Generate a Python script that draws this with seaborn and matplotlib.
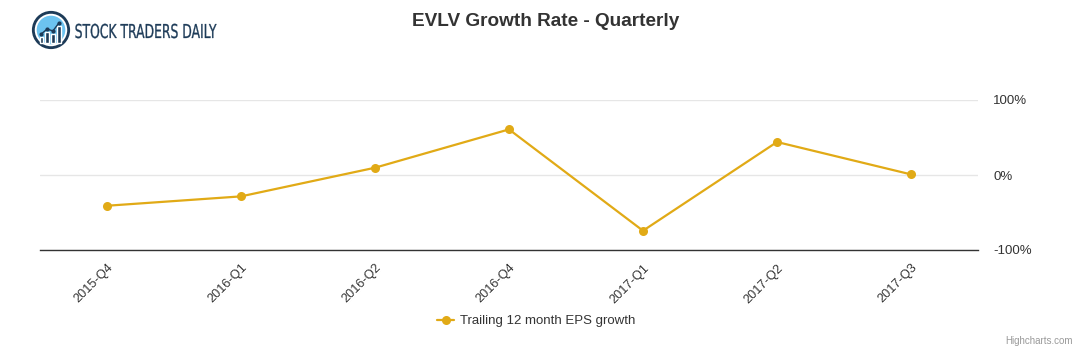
import matplotlib
matplotlib.use('Agg')
import matplotlib.pyplot as plt
import seaborn as sns
import pandas as pd
import numpy as np
from matplotlib.patches import Circle, Rectangle, PathPatch
from matplotlib.textpath import TextPath
from matplotlib.font_manager import FontProperties
from matplotlib.transforms import Affine2D

# data
quarters = ["2015-Q4", "2016-Q1", "2016-Q2", "2016-Q4", "2017-Q1", "2017-Q2", "2017-Q3"]
eps_growth = [-41, -28.5, 9.7, 60.8, -74.3, 44, 0.8]
y_ticks = [-100, 0, 100]
y_tick_labels = ["-100%", "0%", "100%"]

line_col = '#e1aa16'
text_col = '#333333'
navy = '#1d3b58'

sns.set_theme(style="white")
plt.rcParams['font.family'] = ['Liberation Sans', 'DejaVu Sans']

df = pd.DataFrame({"Quarter": quarters, "Growth": eps_growth})

fig = plt.figure(figsize=(10.91, 3.5), dpi=100)
ax = fig.add_axes([40/1091, 1-250/350, 938/1091, 150/350])

sns.lineplot(data=df, x="Quarter", y="Growth", ax=ax, sort=False, color=line_col,
             marker='o', markersize=6.5, markeredgewidth=0, linewidth=1.6,
             label="Trailing 12 month EPS growth")

ax.set_xlim(-0.5, len(quarters)-0.5)
ax.set_ylim(-100, 100)
ax.set_yticks(y_ticks)
ax.set_yticklabels(y_tick_labels)
ax.yaxis.tick_right()
ax.tick_params(axis='y', length=0, pad=11, labelsize=9.5, labelcolor=text_col)
ax.tick_params(axis='x', length=0, pad=8.5, labelsize=9.2, labelcolor=text_col)
for lab in ax.get_xticklabels():
    lab.set_rotation(45)
    lab.set_ha('right')
    lab.set_rotation_mode('anchor')
ax.set_xlabel("")
ax.set_ylabel("")
ax.grid(axis='y', color='#e6e6e6', linewidth=1)
ax.set_axisbelow(True)
for s in ['top', 'left', 'right']:
    ax.spines[s].set_visible(False)
ax.spines['bottom'].set_color(text_col)
ax.spines['bottom'].set_linewidth(1)

ax.get_legend().remove()
handles, labels = ax.get_legend_handles_labels()
fig.legend(handles, labels, loc='center', bbox_to_anchor=(536/1091, 1-321/350),
           frameon=False, fontsize=9.5, handlelength=1.3, handletextpad=0.4,
           labelcolor=text_col)

fig.text(546/1091, 1-22/350, "EVLV Growth Rate - Quarterly", ha='center', va='center',
         fontsize=13.7, fontweight='bold', color=text_col)
fig.text(1073/1091, 1-341/350, "Highcharts.com", ha='right', va='center',
         fontsize=7, color='#999999')

# logo
lax = fig.add_axes([30/1091, 1-51/350, 42/1091, 42/350])
lax.set_xlim(-1.1, 1.1)
lax.set_ylim(-1.1, 1.1)
lax.set_aspect('equal')
lax.axis('off')
lax.add_patch(Circle((0, 0), 1.0, facecolor=navy, edgecolor='none'))
lax.add_patch(Circle((0, 0), 0.85, facecolor='white', edgecolor='none'))
lax.add_patch(Circle((0, 0), 0.75, facecolor='#6cc3f0', edgecolor='none'))
bar_x = [-0.5, -0.2, 0.1, 0.4]
bar_h = [0.35, 0.6, 0.5, 0.9]
for bx, bh in zip(bar_x, bar_h):
    lax.add_patch(Rectangle((bx-0.1, -0.7), 0.2, bh, facecolor=navy))
lax.plot(bar_x, [-0.2, 0.05, -0.05, 0.35], color=navy, lw=1, marker='o', markersize=2)

# condensed logo wordmark, squeezed horizontally to fit 75..217 px
tax = fig.add_axes([0, 0, 1, 1])
tax.set_xlim(0, 1091)
tax.set_ylim(350, 0)
tax.axis('off')
tp = TextPath((0, 0), "STOCK TRADERS DAILY", size=100,
              prop=FontProperties(family='DejaVu Sans'))
bb = tp.get_extents()
sx = 141 / bb.width
sy = 14 / 73.0
tr = Affine2D().translate(-bb.x0, 0).scale(sx, -sy).translate(75.5, 38)
tax.add_patch(PathPatch(tr.transform_path(tp), facecolor=navy, edgecolor=navy,
                        linewidth=0.2))

fig.savefig("out.png", dpi=100)
